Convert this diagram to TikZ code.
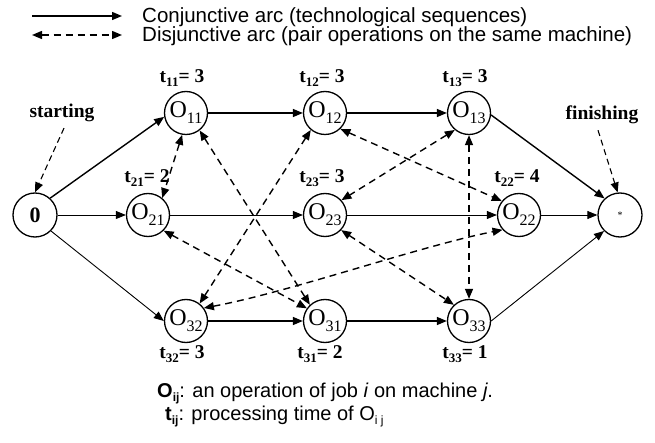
\documentclass[tikz,border=0pt]{standalone}
\usepackage{fontspec}
\setmainfont{Liberation Serif}
\setsansfont{Liberation Sans}
\usetikzlibrary{arrows.meta}

\newcommand\opname[1]{O\raisebox{-6pt}{\fontsize{16}{16}\selectfont #1}}
\newcommand\tval[2]{t\raisebox{-4pt}{\fontsize{13}{13}\selectfont #1}= #2}
\newcommand\subsans[1]{\raisebox{-4pt}{\fontsize{12}{12}\selectfont #1}}

\tikzset{
  op/.style={circle, draw, line width=1.3pt, minimum size=43pt, inner sep=0pt,
    font=\fontsize{24}{24}\selectfont},
  conj/.style={line width=1.4pt, -{Triangle[length=10pt,width=8pt]}},
  conjthin/.style={line width=0.9pt, -{Triangle[length=10pt,width=8pt]}},
  disj/.style={line width=1.4pt, dash pattern=on 7pt off 5pt,
    {Triangle[length=10pt,width=8pt]}-{Triangle[length=10pt,width=8pt]}},
  pointer/.style={line width=1.1pt, dash pattern=on 6pt off 4pt,
    -{Triangle[length=10pt,width=8pt]}},
  tlabel/.style={font=\fontsize{19.5}{19.5}\selectfont\bfseries, inner sep=0pt},
  legendtext/.style={font=\sffamily\fontsize{20.5}{20.5}\selectfont, inner sep=0pt, anchor=base west},
  notetext/.style={font=\sffamily\fontsize{20}{20}\selectfont, inner sep=0pt, anchor=base west},
}

\begin{document}
\begin{tikzpicture}[x=1pt,y=-1pt]
\useasboundingbox (0,0) rectangle (655,443);

% legend
\coordinate (la1) at (32,16);
\coordinate (lb1) at (122,16);
\coordinate (la2) at (32,35);
\coordinate (lb2) at (122,35);
\draw[conj] (la1) -- (lb1);
\draw[disj] (la2) -- (lb2);
\node[legendtext] (lt1) at (142,23) {Conjunctive arc (technological sequences)};
\node[legendtext] (lt2) at (142,42) {Disjunctive arc (pair operations on the same machine)};

% operation nodes
\node[op, minimum size=44pt, font=\fontsize{22}{22}\selectfont\bfseries] (s) at (35,215) {0};
\node[op] (o11) at (186,113) {\opname{11}};
\node[op] (o12) at (325,113) {\opname{12}};
\node[op] (o13) at (469,113) {\opname{13}};
\node[op] (o21) at (148,215) {\opname{21}};
\node[op] (o23) at (325,215) {\opname{23}};
\node[op] (o22) at (519,215) {\opname{22}};
\node[op] (o32) at (186,321) {\opname{32}};
\node[op] (o31) at (325,321) {\opname{31}};
\node[op] (o33) at (469,321) {\opname{33}};
\node[op, minimum size=44pt, font=\fontsize{10}{10}\selectfont] (f) at (620,215) {*};

% processing times
\node[tlabel] (t11) at (182,78) {\tval{11}{3}};
\node[tlabel] (t12) at (322,78) {\tval{12}{3}};
\node[tlabel] (t13) at (465,78) {\tval{13}{3}};
\node[tlabel] (t21) at (147,178) {\tval{21}{2}};
\node[tlabel] (t23) at (322,178) {\tval{23}{3}};
\node[tlabel] (t22) at (517,178) {\tval{22}{4}};
\node[tlabel] (t32) at (182,354) {\tval{32}{3}};
\node[tlabel] (t31) at (320,354) {\tval{31}{2}};
\node[tlabel] (t33) at (465,354) {\tval{33}{1}};

% start / finish markers
\node[tlabel] (start) at (62,113) {starting};
\node[tlabel] (finish) at (602,115) {finishing};
\draw[pointer] ([xshift=2pt,yshift=-6pt]start.south) -- (s.north);
\draw[pointer] ([xshift=-4pt,yshift=-6pt]finish.south) -- (f.96);

% conjunctive arcs
\draw[conj] (s.48) -- (o11.190);
\draw[conjthin] (s) -- (o21);
\draw[conjthin] (s.-45) -- (o32.west);
\draw[conj] (o11) -- (o12);
\draw[conj] (o12) -- (o13);
\draw[conj] (o13.-5) -- (f.133);
\draw[conjthin] (o21) -- (o23);
\draw[conjthin] (o23) -- (o22);
\draw[conjthin] (o22) -- (f);
\draw[conj] (o32) -- (o31);
\draw[conj] (o31) -- (o33);
\draw[conjthin] (o33.east) -- (f.-135);

% disjunctive arcs, machine 1
\draw[disj] (o11.-100) -- (o21.50);
\draw[disj] (o11.-52) -- (o31.133);
\draw[disj] (o21.-45) -- (o31.145);
% machine 2
\draw[disj] (o12.-46) -- (o22.141);
\draw[disj] (o12.-130) -- (o32.52);
\draw[disj] (o32.36) .. controls (290,292) and (420,246) .. (o22.-138);
% machine 3
\draw[disj] (o13.-130) -- (o23.42);
\draw[disj] (o13.-90) -- (o33.90);
\draw[disj] (o23.-43) -- (o33.133);

% notation
\node[notetext] (n1) at (157,397) {\textbf{O}\subsans{\textbf{ij}}: an operation of job \textit{i} on machine \textit{j}.};
\node[notetext] (n2) at (165,420) {\textbf{t}\subsans{\textbf{ij}}: processing time of O\subsans{i j}};
\end{tikzpicture}
\end{document}
